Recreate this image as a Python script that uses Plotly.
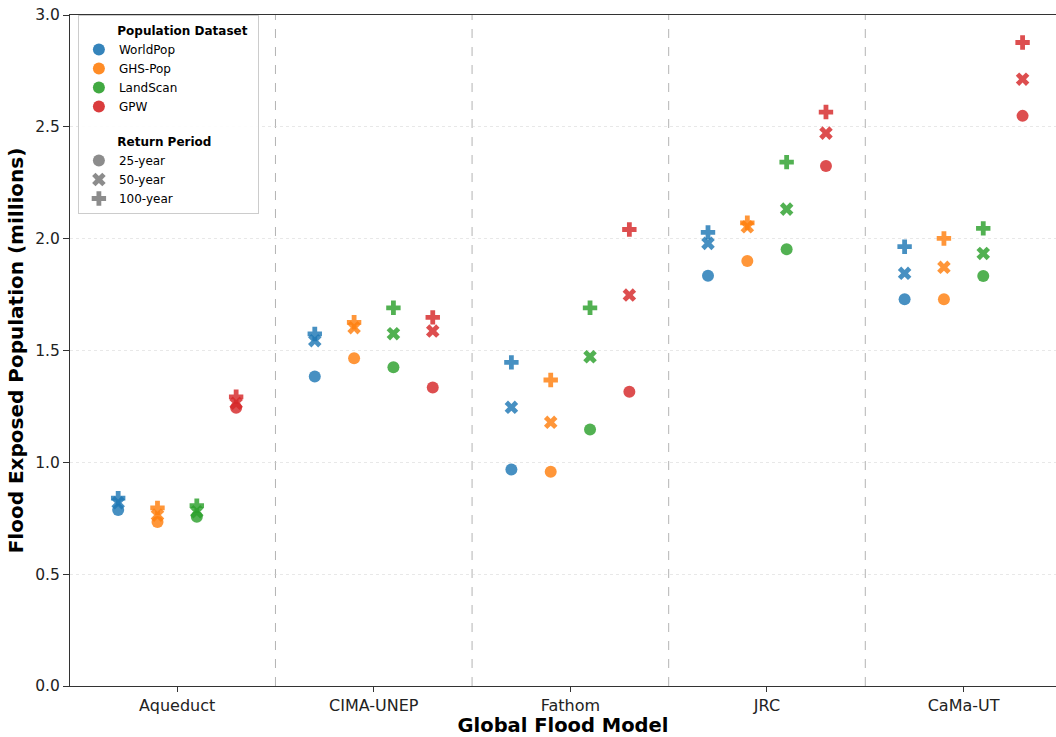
import plotly.graph_objects as go

models = ["Aqueduct", "CIMA-UNEP", "Fathom", "JRC", "CaMa-UT"]
datasets = ["WorldPop", "GHS-Pop", "LandScan", "GPW"]
periods = ["25-year", "50-year", "100-year"]

# values in millions, per dataset: [model][period]
worldpop = [[0.787, 0.819, 0.840], [1.384, 1.544, 1.574], [0.968, 1.246, 1.447], [1.834, 1.979, 2.028], [1.729, 1.845, 1.964]]
ghspop = [[0.733, 0.764, 0.796], [1.465, 1.602, 1.626], [0.958, 1.179, 1.368], [1.900, 2.053, 2.071], [1.729, 1.872, 2.001]]
landscan = [[0.757, 0.779, 0.806], [1.425, 1.575, 1.691], [1.147, 1.472, 1.691], [1.953, 2.132, 2.342], [1.833, 1.934, 2.046]]
gpw = [[1.244, 1.264, 1.293], [1.335, 1.587, 1.648], [1.316, 1.748, 2.041], [2.325, 2.472, 2.566], [2.549, 2.713, 2.877]]

values = {"WorldPop": worldpop, "GHS-Pop": ghspop, "LandScan": landscan, "GPW": gpw}
colors = {"WorldPop": "#1f77b4", "GHS-Pop": "#ff7f0e", "LandScan": "#2ca02c", "GPW": "#d62728"}
offsets = {"WorldPop": -0.3, "GHS-Pop": -0.1, "LandScan": 0.1, "GPW": 0.3}
symbols = {"25-year": "circle", "50-year": "x", "100-year": "cross"}

fig = go.Figure()

for d in datasets:
    for pi, p in enumerate(periods):
        xs = [i + offsets[d] for i in range(len(models))]
        ys = [values[d][i][pi] for i in range(len(models))]
        fig.add_trace(go.Scatter(
            x=xs, y=ys, mode="markers", showlegend=False,
            marker=dict(symbol=symbols[p], size=12, color=colors[d], opacity=0.82,
                        line=dict(width=0)),
            hovertemplate=f"{d} {p}: %{{y:.2f}}M<extra></extra>"))

pad = "&nbsp;" * 8
# legend entries
for d in datasets:
    fig.add_trace(go.Scatter(
        x=[None], y=[None], mode="markers", name=d,
        legendgroup="ds", legendgrouptitle=dict(text=pad + "Population Dataset",
                                                 font=dict(size=12, color="black", weight="bold")),
        marker=dict(symbol="circle", size=11, color=colors[d], opacity=0.9)))
for p in periods:
    fig.add_trace(go.Scatter(
        x=[None], y=[None], mode="markers", name=p,
        legendgroup="rp", legendgrouptitle=dict(text=pad + "Return Period",
                                                 font=dict(size=12, color="black", weight="bold")),
        marker=dict(symbol=symbols[p], size=11, color="gray", opacity=0.9)))

# dashed separators between models
for i in range(len(models) - 1):
    fig.add_shape(type="line", xref="x", yref="paper", x0=i + 0.5, x1=i + 0.5, y0=0, y1=1,
                  line=dict(color="rgba(160,160,160,0.8)", width=1, dash="dash"), layer="below")

fig.update_layout(
    width=1056, height=737,
    margin=dict(l=70, r=0, t=15, b=51),
    plot_bgcolor="white", paper_bgcolor="white",
    font=dict(family="DejaVu Sans", size=13, color="black"),
    legend=dict(x=0.008, y=1.0, xanchor="left", yanchor="top",
                bgcolor="rgba(255,255,255,0.9)", bordercolor="#cccccc", borderwidth=1,
                font=dict(size=12), tracegroupgap=16, traceorder="grouped",
                itemsizing="constant"),
)
fig.update_xaxes(
    range=[-0.545, 4.47], tickmode="array", tickvals=list(range(len(models))), ticktext=models,
    showgrid=False, showline=True, linecolor="#333333", linewidth=1.2, mirror=True,
    ticks="outside", ticklen=5, tickcolor="#333333", zeroline=False,
    title=dict(text="<b>Global Flood Model</b>", font=dict(size=19.5), standoff=2),
    tickfont=dict(size=16, color="#222222"))
fig.update_yaxes(
    range=[0, 3.0], tickmode="array", tickvals=[0, 0.5, 1.0, 1.5, 2.0, 2.5, 3.0],
    ticktext=["0.0", "0.5", "1.0", "1.5", "2.0", "2.5", "3.0"],
    showgrid=True, gridcolor="rgba(210,210,210,0.5)", griddash="dot", gridwidth=1,
    showline=True, linecolor="#333333", linewidth=1.2, mirror=True,
    ticks="outside", ticklen=6, tickcolor="#333333", zeroline=False,
    title=dict(text="<b>Flood Exposed Population (millions)</b>", font=dict(size=20), standoff=6),
    tickfont=dict(size=15.5, color="#222222"))

fig.write_html("out.html")
